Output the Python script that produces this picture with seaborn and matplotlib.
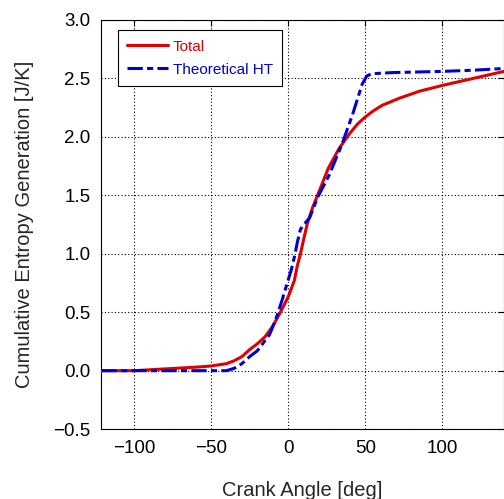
import numpy as np
import pandas as pd
import matplotlib
matplotlib.use("Agg")
import matplotlib.pyplot as plt
import seaborn as sns

# Data
total_angle = [-121, -100, -80, -60, -50, -40, -35, -30, -25, -20, -15, -10, -5, 0, 4, 6, 8, 10, 12.5, 16, 20, 26, 33, 40, 45, 50, 55, 61, 72, 85, 100, 120, 140]
total_value = [0.0, 0.0, 0.015, 0.03, 0.04, 0.06, 0.085, 0.12, 0.18, 0.23, 0.29, 0.38, 0.5, 0.63, 0.77, 0.9, 1.0, 1.12, 1.26, 1.4, 1.53, 1.73, 1.9, 2.03, 2.11, 2.17, 2.22, 2.27, 2.33, 2.39, 2.44, 2.5, 2.56]

ht_angle = [-121, -100, -80, -60, -40, -35, -30, -25, -20, -12, -8, -4, -1.5, 2, 4, 6, 8, 11.5, 14, 17, 19, 26.5, 35, 42, 48, 51, 54, 68, 100, 120, 140]
ht_value = [0.0, 0.0, 0.0, 0.0, 0.0, 0.02, 0.06, 0.12, 0.17, 0.31, 0.44, 0.6, 0.71, 0.86, 0.97, 1.10, 1.21, 1.27, 1.31, 1.41, 1.48, 1.67, 1.94, 2.2, 2.45, 2.52, 2.54, 2.55, 2.56, 2.57, 2.585]

series_names = ["Total", "Theoretical HT"]
series_colors = ["#e00000", "#0000d0"]

x_ticks = [-100, -50, 0, 50, 100]
y_ticks = [-0.5, 0.0, 0.5, 1.0, 1.5, 2.0, 2.5, 3.0]

sns.set_style("white")
plt.rcParams['font.family'] = ['Liberation Sans', 'DejaVu Sans']
plt.rcParams['axes.unicode_minus'] = True

fig = plt.figure(figsize=(5.04, 4.99), dpi=100)
ax = fig.add_axes([0.200, 0.140, 0.800, 0.820])

df_total = pd.DataFrame({"angle": total_angle, "value": total_value})
df_ht = pd.DataFrame({"angle": ht_angle, "value": ht_value})

sns.lineplot(data=df_total, x="angle", y="value", ax=ax, color=series_colors[0],
             lw=2.2, label=series_names[0], sort=False, zorder=3)
sns.lineplot(data=df_ht, x="angle", y="value", ax=ax, color=series_colors[1],
             lw=2.2, label=series_names[1], sort=False, zorder=4,
             dashes=False)
ax.lines[1].set_dashes([5, 1.4, 2, 1.4])

ax.set_xlim(-121.5, 140)
ax.set_ylim(-0.5, 3.0)
ax.set_xticks(x_ticks)
ax.set_yticks(y_ticks)
ax.set_xticklabels([f"{v}".replace("-", "\u2212") for v in x_ticks])
ax.set_yticklabels([f"{v:.1f}".replace("-", "\u2212") for v in y_ticks])

ax.grid(True, color="black", linestyle=(0, (1, 2)), linewidth=0.8)
for s in ax.spines.values():
    s.set_color("black")
    s.set_linewidth(0.8)
ax.tick_params(direction="in", length=4, width=0.8, top=True, right=True,
               labelsize=13.5, colors="black", pad=8)
ax.tick_params(axis="y", pad=7.5)

ax.set_xlabel("Crank Angle [deg]", fontsize=14.5, labelpad=17)
ax.set_ylabel("Cumulative Entropy Generation [J/K]", fontsize=14.5, labelpad=14)

leg = ax.legend(loc="upper left", bbox_to_anchor=(0.035, 0.982), fontsize=11,
                frameon=True, fancybox=False, edgecolor="black", framealpha=1,
                handlelength=2.7, handletextpad=0.3, borderpad=0.6,
                labelspacing=0.6, borderaxespad=0.2)
leg.get_frame().set_linewidth(0.8)
for txt, c in zip(leg.get_texts(), series_colors):
    txt.set_color(c)

fig.savefig("out.png", dpi=100)
